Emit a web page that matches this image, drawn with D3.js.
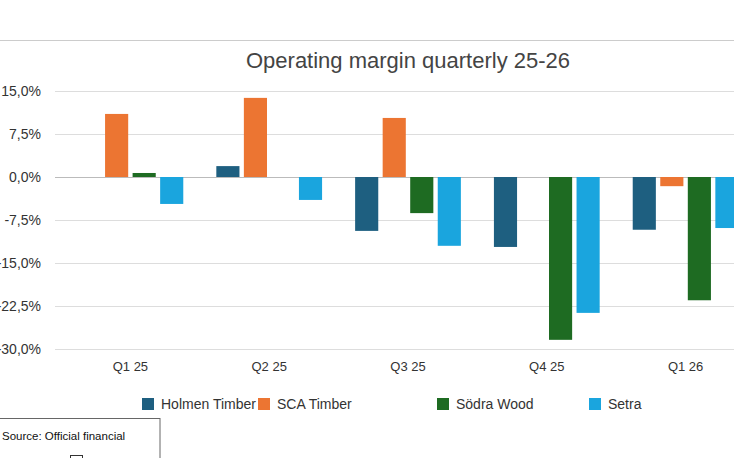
<!DOCTYPE html><html><head><meta charset="utf-8"><script src="https://cdn.jsdelivr.net/npm/d3@7"></script>
<style>body{margin:0;background:#fff}text{font-family:"Liberation Sans",Arial,sans-serif}</style></head><body>
<svg id="c" width="734" height="458"></svg>
<script>
const categories=["Q1 25","Q2 25","Q3 25","Q4 25","Q1 26"];
const seriesNames=["Holmen Timber","SCA Timber","Södra Wood","Setra"];
const colors=["#1e5f80","#ec7532","#1e6b22","#1aa5de"];
const holmen=[0,1.9,-9.4,-12.2,-9.2];
const sca=[11.0,13.8,10.3,0,-1.6];
const sodra=[0.7,0,-6.3,-28.4,-21.5];
const setra=[-4.7,-4.0,-12.0,-23.7,-8.9];
const ticks=[15,7.5,0,-7.5,-15,-22.5,-30];
const tickLabels=["15,0%","7,5%","0,0%","-7,5%","-15,0%","-22,5%","-30,0%"];
const series=[holmen,sca,sodra,setra];
const svg=d3.select("#c");
svg.append("line").attr("x1",0).attr("x2",734).attr("y1",40.5).attr("y2",40.5).attr("stroke","#ccc");
const y=d3.scaleLinear().domain([-30,15]).range([349,91]);
const x=d3.scaleBand().domain(categories).range([61,755]).padding(0);
const x1=d3.scaleBand().domain(seriesNames).range([0,x.bandwidth()]).paddingInner(0.16).paddingOuter(0.6);
svg.append("text").attr("x",408).attr("y",68).attr("text-anchor","middle").attr("font-size",22).attr("fill","#444").text("Operating margin quarterly 25-26");
ticks.forEach((t,i)=>{
 svg.append("line").attr("x1",55).attr("x2",734).attr("y1",Math.round(y(t))+0.5).attr("y2",Math.round(y(t))+0.5).attr("stroke",t===0?"#bbb":"#ddd");
 svg.append("text").attr("x",41).attr("y",y(t)+5).attr("text-anchor","end").attr("font-size",14).attr("fill","#333").text(tickLabels[i]);
});
series.forEach((s,si)=>{
 svg.selectAll(null).data(s).enter().append("rect")
 .attr("x",(d,i)=>x(categories[i])+x1(seriesNames[si]))
 .attr("width",x1.bandwidth())
 .attr("y",d=>y(Math.max(0,d))).attr("height",d=>Math.abs(y(d)-y(0)))
 .attr("fill",colors[si]);
});
categories.forEach(c=>svg.append("text").attr("x",x(c)+x.bandwidth()/2).attr("y",371).attr("text-anchor","middle").attr("font-size",13).attr("fill","#333").text(c));
const lx=[142,258,437,589];
seriesNames.forEach((n,i)=>{
 svg.append("rect").attr("x",lx[i]).attr("y",398).attr("width",12).attr("height",12).attr("fill",colors[i]);
 svg.append("text").attr("x",lx[i]+19).attr("y",409).attr("font-size",14).attr("fill","#333").text(n);
});
svg.append("rect").attr("x",-1).attr("y",418.5).attr("width",161).attr("height",50).attr("fill","#fff").attr("stroke","#666");
svg.append("text").attr("x",2).attr("y",440).attr("font-size",11.5).attr("fill","#111").text("Source: Official financial");
svg.append("rect").attr("x",70.5).attr("y",455.5).attr("width",12).attr("height",10).attr("fill","none").attr("stroke","#333");
</script></body></html>
